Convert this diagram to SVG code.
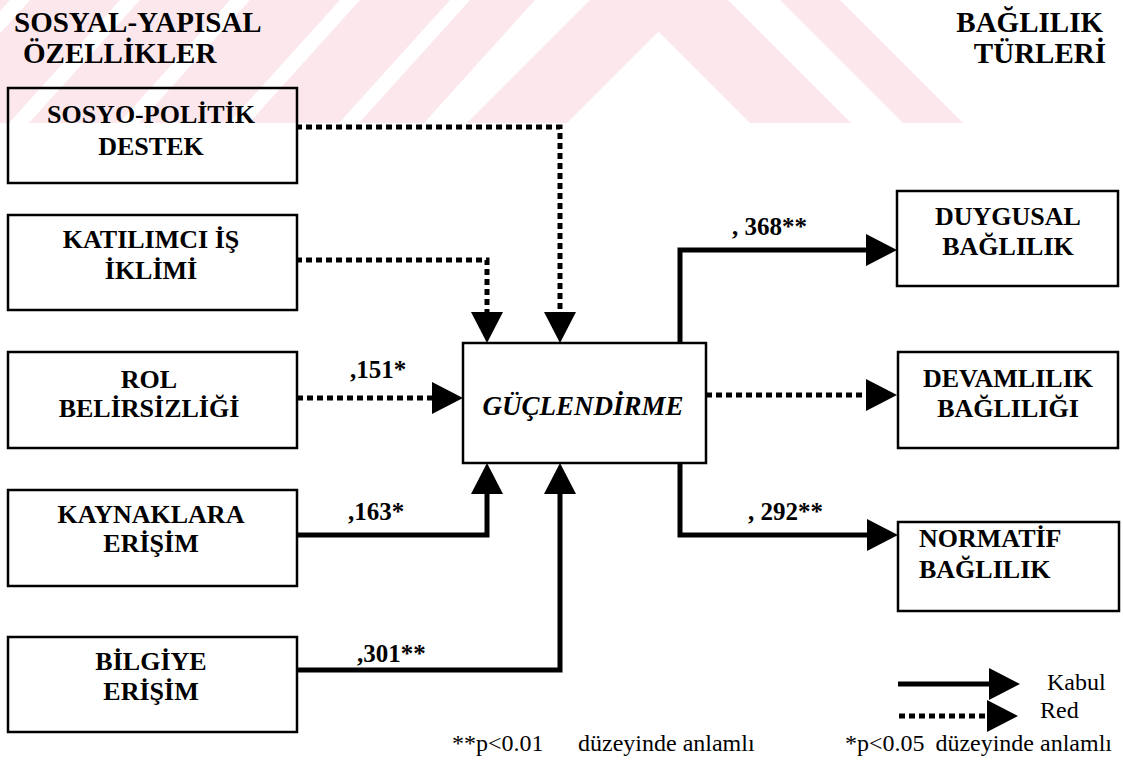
<svg xmlns="http://www.w3.org/2000/svg" width="1123" height="761" viewBox="0 0 1123 761">
<style>
.bx{fill:none;stroke:#000;stroke-width:2.5}
.t{font-family:"Liberation Serif","Times New Roman",serif;font-weight:bold;fill:#000}
.title{font-size:29px}
.lb{font-size:26px;text-anchor:middle}
.num{font-size:25px}
.reg{font-family:"Liberation Serif","Times New Roman",serif;font-size:24px;fill:#000}
.solid{fill:none;stroke:#000;stroke-width:5;marker-end:url(#ah)}
.dot{fill:none;stroke:#000;stroke-width:5;stroke-dasharray:6 4;marker-end:url(#ah)}
.wm{fill:#fce8ec}
.ww{fill:#fff}
</style>
<defs>
<marker id="ah" markerUnits="userSpaceOnUse" markerWidth="32" markerHeight="33" refX="1" refY="16" orient="auto">
<path d="M0,0 L31,16 L0,32 Z" fill="#000"/>
</marker>
<clipPath id="wmclip"><rect x="0" y="0" width="1123" height="123"/></clipPath>
</defs>
<rect width="1123" height="761" fill="#fff"/>
<g id="watermark" clip-path="url(#wmclip)">
<polygon class="wm" points="0,0 590,0 467,123 0,123"/>
<polygon class="ww" points="10,0 30,0 -81,123 -101,123"/>
<polygon class="ww" points="120,0 140,0 29,123 9,123"/>
<polygon class="ww" points="230,0 250,0 139,123 119,123"/>
<polygon class="ww" points="340,0 360,0 249,123 229,123"/>
<polygon class="ww" points="450,0 470,0 359,123 339,123"/>
<polygon class="ww" points="535,0 590,0 467,123 424,123"/>
<polygon class="wm" points="590,0 728,0 851,123 750,123 658.5,31.5 567,123 467,123"/>
<polygon class="wm" points="780,0 840,0 963,123 903,123"/>
</g>
<g id="titles">
<text class="t title" x="14" y="32">SOSYAL-YAPISAL</text>
<text class="t title" x="23" y="63">ÖZELLİKLER</text>
<text class="t title" x="1103" y="32" text-anchor="end">BAĞLILIK</text>
<text class="t title" x="1106" y="63" text-anchor="end">TÜRLERİ</text>
</g>
<g id="connectors">
<path class="dot" d="M296,127 H560 V313"/>
<path class="dot" d="M296,260 H487 V313"/>
<path class="dot" d="M297,398 H433"/>
<path class="solid" d="M297,535 H487 V493"/>
<path class="solid" d="M297,670 H560 V493"/>
<path class="solid" d="M680,343 V250 H867"/>
<path class="dot" d="M706,395 H867"/>
<path class="solid" d="M680,463 V535 H868"/>
<text class="t num" x="350" y="378">,151*</text>
<text class="t num" x="348" y="520">,163*</text>
<text class="t num" x="357" y="662">,301**</text>
<text class="t num" x="732" y="235">, 368**</text>
<text class="t num" x="748" y="520">, 292**</text>
</g>
<g id="n-sosyo">
<rect class="bx" x="8" y="88" width="289" height="95"/>
<text class="t lb" x="151" y="123">SOSYO-POLİTİK</text>
<text class="t lb" x="151" y="155">DESTEK</text>
</g>
<g id="n-katilimci">
<rect class="bx" x="8" y="215" width="289" height="95"/>
<text class="t lb" x="151" y="248">KATILIMCI İŞ</text>
<text class="t lb" x="151" y="279">İKLİMİ</text>
</g>
<g id="n-rol">
<rect class="bx" x="8" y="352" width="289" height="96"/>
<text class="t lb" x="149" y="388">ROL</text>
<text class="t lb" x="149" y="417">BELİRSİZLİĞİ</text>
</g>
<g id="n-kaynak">
<rect class="bx" x="8" y="490" width="289" height="96"/>
<text class="t lb" x="151" y="523">KAYNAKLARA</text>
<text class="t lb" x="151" y="552">ERİŞİM</text>
</g>
<g id="n-bilgi">
<rect class="bx" x="8" y="637" width="289" height="95"/>
<text class="t lb" x="151" y="670">BİLGİYE</text>
<text class="t lb" x="151" y="700">ERİŞİM</text>
</g>
<g id="n-guc">
<rect class="bx" x="463" y="343" width="243" height="120"/>
<text class="t" x="583" y="415" font-size="27" font-style="italic" text-anchor="middle">GÜÇLENDİRME</text>
</g>
<g id="n-duygusal">
<rect class="bx" x="897" y="191" width="221" height="95"/>
<text class="t lb" x="1008" y="225">DUYGUSAL</text>
<text class="t lb" x="1008" y="255">BAĞLILIK</text>
</g>
<g id="n-devam">
<rect class="bx" x="898" y="352" width="220" height="96"/>
<text class="t lb" x="1008" y="387">DEVAMLILIK</text>
<text class="t lb" x="1008" y="417">BAĞLILIĞI</text>
</g>
<g id="n-normatif">
<rect class="bx" x="898" y="522" width="221" height="89"/>
<text class="t" x="919" y="547" font-size="26">NORMATİF</text>
<text class="t" x="919" y="578" font-size="26">BAĞLILIK</text>
</g>
<g id="legend">
<path class="solid" d="M898,684 H990"/>
<path class="dot" d="M899,716 H988"/>
<text class="reg" x="1047" y="690">Kabul</text>
<text class="reg" x="1040" y="718">Red</text>
<text class="reg" x="452" y="751">**p&lt;0.01</text>
<text class="reg" x="578" y="751">düzeyinde anlamlı</text>
<text class="reg" x="845" y="751">*p&lt;0.05</text>
<text class="reg" x="1112" y="751" text-anchor="end">düzeyinde anlamlı</text>
</g>
</svg>
